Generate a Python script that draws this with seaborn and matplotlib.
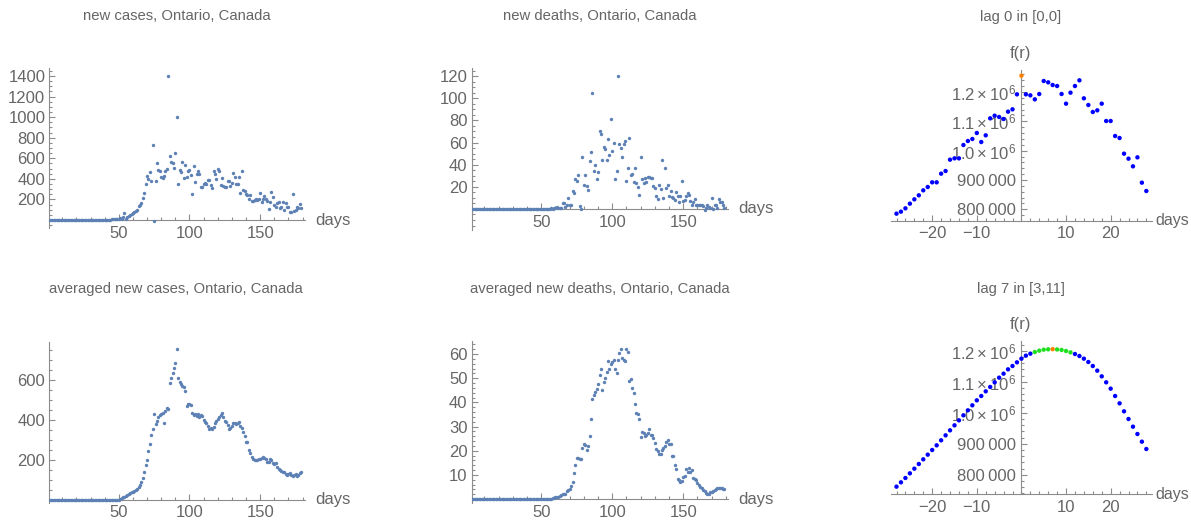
import matplotlib
matplotlib.use("Agg")
import matplotlib.pyplot as plt
import seaborn as sns
import pandas as pd
from matplotlib.ticker import FixedLocator, FixedFormatter, MultipleLocator

# ---------------------------------------------------------------- data
days = list(range(1, 180))

new_cases = [
    0, 0, 0, 0, 0, 0, 0, 0, 0, 0, 0, 0, 0, 0, 0, 0, 0, 0, 0, 0,
    0, 0, 0, 0, 0, 0, 0, 0, 0, 0, 0, 0, 0, 0, 0, 0, 0, 0, 0, 0, 0,
    2, 4, 3, 6, 8, 10, 7, 12, 5,
    20, 10, 25, 70, 5, 32, 38, 50, 60, 70,
    80, 90, 100, 135, 145, 170, 210, 260, 350, 430,
    400, 465, 375, 725, -10, 380, 550, 485, 480, 415,
    405, 425, 480, 495, 1400, 620, 560, 550, 505, 655,
    1000, 350, 485, 469, 560, 404, 534, 420, 472, 488,
    440, 255, 527, 372, 446, 479, 443, 323, 323, 349,
    356, 352, 391, 391, 336, 313, 472, 443, 395, 492,
    479, 339, 404, 330, 323, 323, 382, 378, 326, 362,
    456, 417, 346, 346, 414, 262, 479, 294, 278, 252,
    239, 203, 242, 181, 181, 194, 207, 197, 207, 265,
    174, 200, 236, 200, 184, 106, 174, 275, 226, 142,
    129, 161, 174, 116, 129, 174, 96, 161, 122, 122,
    74, 80, 252, 83, 96, 126, 116, 155, 116,
]

new_deaths = [
    0, 0, 0, 0, 0, 0, 0, 0, 0, 0, 0, 0, 0, 0, 0, 0, 0, 0, 0, 0,
    0, 0, 0, 0, 0, 0, 0, 0, 0, 0, 0, 0, 0, 0, 0, 0, 0, 0, 0, 0,
    0, 0, 0, 0, 0, 0, 0, 0, 0, 0, 0, 0, 0, 0, 0, 0,
    1, 0, 1, 1,
    2, 1, 1, 1, 5, 5, 2, 4, 10, 4,
    4, 16, 14, 27, 25, 31, 3, 0, 47, 22,
    31, 21, 17, 43, 51, 105, 34, 40, 27, 33,
    70, 68, 44, 56, 54, 44, 63, 49, 81, 52,
    60, 27, 34, 120, 59, 55, 47, 59, 61, 25,
    37, 64, 31, 32, 24, 37, 23, 20, 13, 47,
    27, 23, 28, 24, 29, 29, 28, 28, 21, 19,
    12, 9, 22, 18, 44, 10, 37, 19, 22, 12,
    16, 11, 10, 8, 15, 12, 6, 12, 25, 7,
    8, 12, 14, 13, 7, 4, 6, 9, 4, 4,
    4, 4, 4, 3, -1, 1, 4, 2, 1, 10,
    0, 4, 4, 1, 9, 6, 6, 4, 1,
]

avg_cases = [
    0, 0, 0, 0, 0, 0, 0, 0, 0, 0, 0, 0, 0, 0, 0, 0, 0, 0, 0, 0,
    0, 0, 0, 0, 0, 0, 0, 0, 0, 0, 0, 0, 0, 0, 0, 0, 0, 0, 0, 0,
    0, 0, 0, 0, 0, 0, 0, 0, 0, 0,
    3, 6, 11, 14, 19, 22, 27, 31, 36, 39,
    44, 47, 51, 61, 72, 89, 109, 136, 172, 197,
    242, 279, 322, 351, 427, 376, 394, 414, 422, 426,
    431, 384, 442, 459, 452, 581, 606, 631, 656, 681,
    752, 606, 590, 578, 570, 562, 545, 467, 477, 477,
    472, 431, 422, 426, 417, 426, 414, 422, 417, 397,
    386, 381, 369, 352, 359, 352, 364, 381, 392, 402,
    414, 422, 431, 414, 392, 389, 372, 352, 359, 369,
    381, 381, 376, 381, 389, 369, 356, 339, 319, 289,
    286, 247, 231, 214, 202, 197, 197, 197, 202, 202,
    209, 212, 209, 202, 189, 186, 202, 196, 181, 176,
    181, 164, 152, 147, 142, 139, 136, 126, 122, 126,
    131, 122, 119, 122, 126, 119, 122, 132, 139,
]

avg_deaths = [
    0, 0, 0, 0, 0, 0, 0, 0, 0, 0, 0, 0, 0, 0, 0, 0, 0, 0, 0, 0,
    0, 0, 0, 0, 0, 0, 0, 0, 0, 0, 0, 0, 0, 0, 0, 0, 0, 0, 0, 0,
    0, 0, 0, 0, 0, 0, 0, 0, 0, 0, 0, 0, 0, 0, 0, 0, 0,
    0.3, 0.5, 0.7,
    0.9, 1.0, 1.3, 1.6, 2.0, 2.1, 2.3, 3.3, 3.7, 4.1,
    5.5, 7.2, 11.0, 14.0, 16.9, 16.9, 16.6, 16.4, 21.0, 22.7,
    22.4, 20.3, 22.0, 26.0, 33.0, 41.5, 43.0, 44.5, 45.4, 47.5,
    51.3, 53.7, 45.1, 48.5, 50.2, 52.7, 57.0, 53.8, 55.7, 56.8,
    57.5, 53.7, 52.3, 57.5, 60.3, 61.9, 58.2, 57.5, 57.1, 62.1,
    61.0, 48.8, 49.5, 46.1, 44.0, 39.2, 35.5, 35.1, 33.0, 25.7,
    27.9, 27.2, 26.1, 26.5, 27.5, 29.0, 26.5, 26.5, 25.4, 23.4,
    20.6, 19.9, 18.5, 18.8, 20.2, 21.3, 22.0, 23.5, 24.3, 22.7,
    22.7, 18.0, 18.0, 14.1, 12.3, 8.3, 7.8, 7.2, 7.5, 9.3,
    9.6, 12.3, 11.4, 12.7, 11.4, 12.0, 8.6, 8.3, 7.8, 6.6,
    6.0, 4.9, 4.8, 3.8, 3.4, 2.4, 2.0, 2.0, 3.1, 2.8,
    3.4, 3.8, 4.2, 4.5, 4.8, 4.5, 4.5, 4.2, 4.2,
]

lags = list(range(-28, 29))

lag0_f = [
    785130, 791947, 803310, 819218, 833991, 847627, 864671, 876034, 891942, 891942,
    921486, 930576, 969210, 973756, 973756, 1019208, 1032844, 1039661, 1060115, 1029434,
    1052160, 1110112, 1119202, 1114657, 1107839, 1132838, 1140792, 1191925, 1255558, 1191925,
    1188516, 1174881, 1193061, 1237377, 1232832, 1223742, 1220333, 1193061, 1160109, 1197607,
    1220333, 1239650, 1178290, 1155564, 1131701, 1137383, 1160109, 1101021, 1101021, 1049888,
    1043070, 989665, 972620, 946485, 977165, 890806, 862399,
]
lag0_best = 0
lag0_window = (0, 0)

lag7_f = [
    761411, 775390, 789369, 804423, 819478, 834533, 849589, 864644, 879694, 894748,
    910878, 927007, 943137, 959266, 975396, 991525, 1007654, 1023784, 1039913, 1053893,
    1068948, 1082928, 1097980, 1113035, 1125938, 1139917, 1150670, 1162498, 1174326, 1184004,
    1190456, 1195832, 1200133, 1203359, 1204500, 1205000, 1204000, 1202284, 1199058, 1194757,
    1189380, 1182928, 1174326, 1163574, 1150670, 1135616, 1117336, 1097980, 1077550, 1053893,
    1030236, 1004429, 979697, 954965, 931308, 906576, 882919,
]
lag7_best = 7
lag7_window = (3, 11)

f_ticks = [800000, 900000, 1000000, 1100000, 1200000]
f_tick_labels = ["800\u2009000", "900\u2009000",
                 r"$\mathregular{1.0\times10^{6}}$",
                 r"$\mathregular{1.1\times10^{6}}$",
                 r"$\mathregular{1.2\times10^{6}}$"]

# ---------------------------------------------------------------- style
sns.set_style("white")
plt.rcParams["font.family"] = ["Liberation Sans", "DejaVu Sans"]
plt.rcParams["mathtext.fontset"] = "custom"
plt.rcParams["mathtext.rm"] = "Liberation Sans"
plt.rcParams["mathtext.it"] = "Liberation Sans:italic"
plt.rcParams["mathtext.bf"] = "Liberation Sans:bold"

W, H = 1191, 520
fig = plt.figure(figsize=(W / 100, H / 100), dpi=100)
fig.patch.set_facecolor("white")

AXIS_C = "#8c8c8c"
TEXT_C = "#666666"
POINT_C = "#5e81b5"
LAG_COLORS = {"other": "#0000ff", "window": "#1fe01f", "best": "#ff8000"}


def px_axes(x0, x1, y0, y1):
    return fig.add_axes([x0 / W, 1 - y1 / H, (x1 - x0) / W, (y1 - y0) / H])


def style_axes(ax, xlim, ylim, xcross, ycross, xmajor, xminor, ymajor, yminor):
    ax.set_xlim(*xlim)
    ax.set_ylim(*ylim)
    ax.patch.set_alpha(0)
    for s in ("top", "right"):
        ax.spines[s].set_visible(False)
    ax.spines["left"].set_position(("data", xcross))
    ax.spines["bottom"].set_position(("data", ycross))
    for s in ("left", "bottom"):
        ax.spines[s].set_color(AXIS_C)
        ax.spines[s].set_linewidth(0.8)
    ax.xaxis.set_major_locator(FixedLocator(xmajor))
    ax.xaxis.set_minor_locator(MultipleLocator(xminor))
    ax.yaxis.set_major_locator(FixedLocator(ymajor))
    ax.yaxis.set_minor_locator(MultipleLocator(yminor))
    ax.tick_params(which="both", direction="in", color=AXIS_C, width=0.8,
                   labelcolor=TEXT_C, labelsize=12,
                   bottom=True, left=True, top=False, right=False)
    ax.tick_params(which="major", length=4)
    ax.tick_params(which="minor", length=2.2)
    ax.tick_params(axis="x", pad=4)
    ax.tick_params(axis="y", pad=3)
    ax.set_xlabel("")
    ax.set_ylabel("")


def label(x, y, s, size=12, ha="center"):
    fig.text(x / W, 1 - y / H, s, ha=ha, va="center", fontsize=size, color=TEXT_C)


def series_panel(box, values, ylim, ymajor, yminor, title, title_xy, days_xy):
    ax = px_axes(*box)
    df = pd.DataFrame({"day": days, "value": values})
    sns.scatterplot(data=df, x="day", y="value", ax=ax, color=POINT_C,
                    s=6, linewidth=0, legend=False, zorder=3)
    style_axes(ax, (1, 181.7), ylim, 1, 0, [50, 100, 150], 10, ymajor, yminor)
    label(*title_xy, title, size=10.7)
    label(*days_xy, "days", ha="left")
    return ax


def lag_panel(box, values, best, window, ylim, title, title_xy, fr_xy, days_xy):
    ax = px_axes(*box)
    kind = ["best" if r == best else "window" if window[0] <= r <= window[1] else "other"
            for r in lags]
    df = pd.DataFrame({"r": lags, "f": values, "kind": kind})
    sns.scatterplot(data=df, x="r", y="f", hue="kind", palette=LAG_COLORS, ax=ax,
                    s=10, linewidth=0, legend=False, zorder=3)
    style_axes(ax, (-29.3, 29.2), ylim, 0, ylim[0], [-20, -10, 10, 20], 2,
               f_ticks, 20000)
    ax.yaxis.set_major_formatter(FixedFormatter(f_tick_labels))
    ax.tick_params(axis="y", pad=4)
    label(*title_xy, title, size=10.7)
    label(*fr_xy, "f(r)")
    fig.text(days_xy[0] / W, 1 - days_xy[1] / H, "days", ha="left", va="center",
             fontsize=11.5, color=TEXT_C)
    return ax


# ---------------------------------------------------------------- panels
series_panel((49.5, 305, 68, 228), new_cases, (-77.8, 1477.8),
             [200, 400, 600, 800, 1000, 1200, 1400], 50,
             "new cases, Ontario, Canada", (177, 16), (315, 220))

series_panel((471.7, 728.3, 68, 230), new_deaths, (-19, 127.3),
             [20, 40, 60, 80, 100, 120], 5,
             "new deaths, Ontario, Canada", (600, 16), (738, 209))

lag_panel((890.7, 1151.7, 70, 220.7), lag0_f, lag0_best, lag0_window,
          (761137, 1274900), "lag 0 in [0,0]", (1021, 16.5), (1020.5, 53.3),
          (1155, 220.7))

series_panel((49.5, 305, 341.7, 503.3), avg_cases, (-19, 789),
             [200, 400, 600], 50,
             "averaged new cases, Ontario, Canada", (176, 289.3), (315, 499.5))

series_panel((471.7, 728.3, 341, 503), avg_deaths, (-1.6, 65.4),
             [10, 20, 30, 40, 50, 60], 2,
             "averaged new deaths, Ontario, Canada", (600, 289.3), (738, 499.2))

lag_panel((890.7, 1151.7, 341, 494.3), lag7_f, lag7_best, lag7_window,
          (736770, 1231316), "lag 7 in [3,11]", (1021, 289.3), (1020.5, 325),
          (1155, 494.3))

fig.savefig("out.png", dpi=100)
